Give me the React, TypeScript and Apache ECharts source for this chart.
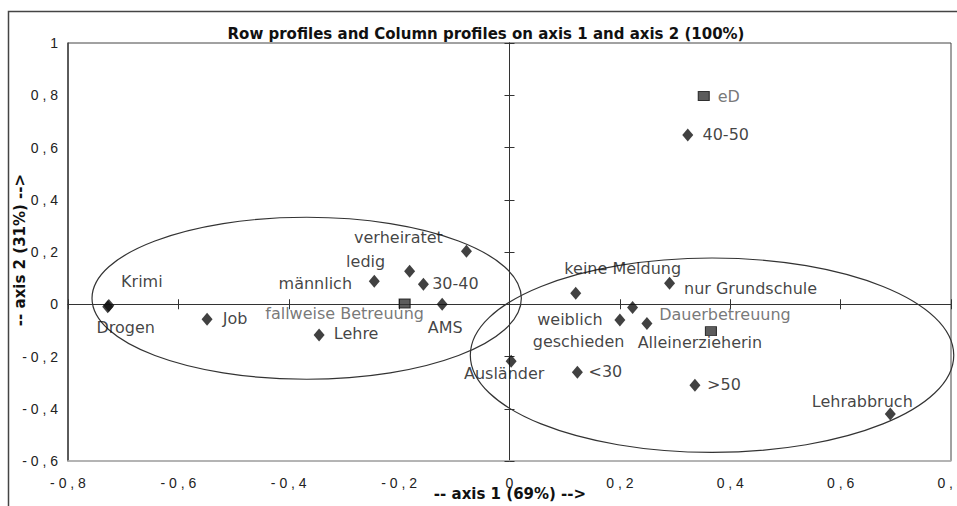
import React, { useEffect, useRef } from "react";
import * as echarts from "echarts";

// Row / column profiles (diamonds)
const DIAMOND_NAMES = [
  "Krimi", "Drogen", "Job", "Lehre", "männlich", "ledig", "30-40", "verheiratet", "AMS",
  "Ausländer", "keine Meldung", "weiblich", "geschieden", "Alleinerzieherin", "nur Grundschule",
  "<30", ">50", "Lehrabbruch", "40-50",
];
const DIAMOND_X = [
  -0.726, -0.728, -0.548, -0.345, -0.245, -0.181, -0.156, -0.078, -0.122,
  0.003, 0.12, 0.2, 0.223, 0.249, 0.29,
  0.123, 0.336, 0.69, 0.323,
];
const DIAMOND_Y = [
  -0.005, -0.01, -0.057, -0.118, 0.088, 0.126, 0.077, 0.203, 0.0,
  -0.218, 0.042, -0.06, -0.012, -0.074, 0.08,
  -0.26, -0.31, -0.42, 0.648,
];

// Squares
const SQUARE_NAMES = ["fallweise Betreuung", "Dauerbetreuung", "eD"];
const SQUARE_X = [-0.19, 0.365, 0.352];
const SQUARE_Y = [0.003, -0.103, 0.797];

// Ellipses: centre x, centre y, radius x, radius y (data units)
const ELLIPSE_CX = [-0.3675, 0.367];
const ELLIPSE_CY = [0.023, -0.195];
const ELLIPSE_RX = [0.389, 0.438];
const ELLIPSE_RY = [0.31, 0.372];

const TITLE = "Row profiles and Column profiles on axis 1 and axis 2 (100%)";
const X_TITLE = "-- axis 1 (69%) -->";
const Y_TITLE = "-- axis 2 (31%) -->";

// label placement (style), pixel offsets from marker centre
const LABEL_OFFSETS: Record<string, number[]> = {
  Krimi: [33, -24], Drogen: [18, 21], Job: [28, -1], Lehre: [37, -2],
  "männlich": [-59, 2], ledig: [-44, -10], "30-40": [32, -1], verheiratet: [-68, -14],
  "fallweise Betreuung": [-60, 10], AMS: [3, 23], "Ausländer": [-7, 12],
  "keine Meldung": [47, -25], weiblich: [-50, 0], geschieden: [-54, 34],
  Alleinerzieherin: [53, 19], "nur Grundschule": [81, 5], Dauerbetreuung: [14, -17],
  "<30": [28, -1], ">50": [29, -1], Lehrabbruch: [-28, -12], eD: [25, 0], "40-50": [38, 0],
};

const fmt = (v: number) => {
  const r = Math.round(v * 10) / 10;
  const s = r === 0 ? "0" : r % 1 === 0 ? String(r) : r.toFixed(1).replace(".", ",");
  return s.split("").join(" ");
};

export default function App() {
  const ref = useRef<HTMLDivElement>(null);
  useEffect(() => {
    if (!ref.current) return;
    const chart = echarts.init(ref.current, null, { renderer: "svg" });
    const LABEL_FONT = "DejaVu Sans";
    const mk = (names: string[], xs: number[], ys: number[], color: string) =>
      names.map((n, i) => ({
        name: n,
        value: [xs[i], ys[i]],
        label: { offset: LABEL_OFFSETS[n] || [0, 0], color },
      }));
    const baseX = { type: "value", min: -0.8, max: 0.8, interval: 0.2, splitLine: { show: false }, gridIndex: 0 };
    const baseY = { type: "value", min: -0.6, max: 1, interval: 0.2, splitLine: { show: false }, gridIndex: 0 };
    const option: any = {
      animation: false,
      backgroundColor: "#fff",
      grid: {
        left: 68, top: 43, width: 883, height: 418, show: true, borderColor: "#444", borderWidth: 1,
        containLabel: false, outerBoundsMode: "none",
      },
      xAxis: [
        {
          ...baseX,
          position: "bottom",
          axisLine: { show: true, onZero: false, lineStyle: { color: "#bbb", width: 1.5 } },
          axisTick: { show: false },
          axisLabel: { formatter: fmt, fontSize: 14, color: "#222", margin: 15, fontFamily: "Liberation Sans" },
        },
        {
          ...baseX,
          axisLine: { show: true, onZero: true, onZeroAxisIndex: 0, lineStyle: { color: "#333" } },
          axisTick: { show: true, inside: false, length: 5, lineStyle: { color: "#333" } },
          axisLabel: { show: false },
        },
        {
          ...baseX,
          axisLine: { show: true, onZero: true, onZeroAxisIndex: 0, lineStyle: { color: "#333" } },
          axisTick: { show: true, inside: true, length: 5, lineStyle: { color: "#333" } },
          axisLabel: { show: false },
        },
      ],
      yAxis: [
        {
          ...baseY,
          position: "left",
          axisLine: { show: true, onZero: false, lineStyle: { color: "#444", width: 1.5 } },
          axisTick: { show: false },
          axisLabel: { formatter: fmt, fontSize: 14, color: "#222", margin: 10, fontFamily: "Liberation Sans" },
        },
        {
          ...baseY,
          position: "left",
          axisLine: { show: true, onZero: true, onZeroAxisIndex: 0, lineStyle: { color: "#333" } },
          axisTick: { show: true, inside: false, length: 5, lineStyle: { color: "#333" } },
          axisLabel: { show: false },
        },
        {
          ...baseY,
          position: "left",
          axisLine: { show: true, onZero: true, onZeroAxisIndex: 0, lineStyle: { color: "#333" } },
          axisTick: { show: true, inside: true, length: 5, lineStyle: { color: "#333" } },
          axisLabel: { show: false },
        },
      ],
      graphic: [
        { type: "rect", z: -10, shape: { x: 8.5, y: 11.5, width: 1000, height: 600 }, style: { fill: "none", stroke: "#444", lineWidth: 1.5 } },
        { type: "text", x: 486, y: 34, style: { text: TITLE, textAlign: "center", textVerticalAlign: "middle", font: "bold 15px 'DejaVu Sans'", fill: "#111" } },
        { type: "text", x: 510, y: 494, style: { text: X_TITLE, textAlign: "center", textVerticalAlign: "middle", font: "bold 15px 'DejaVu Sans'", fill: "#111" } },
        { type: "text", x: 20, y: 250, rotation: Math.PI / 2, style: { text: Y_TITLE, textAlign: "center", textVerticalAlign: "middle", font: "bold 15px 'DejaVu Sans'", fill: "#111" } },
      ],
      series: [
        {
          type: "custom",
          xAxisIndex: 0,
          yAxisIndex: 0,
          silent: true,
          z: 1,
          data: ELLIPSE_CX.map((cx, i) => [cx, ELLIPSE_CY[i], ELLIPSE_RX[i], ELLIPSE_RY[i]]),
          renderItem: (params: any, api: any) => {
            const c = api.coord([api.value(0), api.value(1)]);
            const s = api.size([api.value(2) * 2, api.value(3) * 2]);
            return {
              type: "ellipse",
              shape: { cx: c[0], cy: c[1], rx: s[0] / 2, ry: s[1] / 2 },
              style: { fill: "none", stroke: "#333", lineWidth: 1.2 },
            };
          },
        },
        {
          type: "scatter",
          xAxisIndex: 0,
          yAxisIndex: 0,
          z: 3,
          symbol: "diamond",
          symbolSize: [11, 13],
          itemStyle: { color: "#111" },
          label: { show: true, position: "inside", formatter: "{b}", fontSize: 16, fontFamily: LABEL_FONT, color: "#111" },
          data: mk(DIAMOND_NAMES, DIAMOND_X, DIAMOND_Y, "#111"),
        },
        {
          type: "scatter",
          xAxisIndex: 0,
          yAxisIndex: 0,
          z: 3,
          symbol: "rect",
          symbolSize: [11, 9],
          itemStyle: { color: "#333", borderColor: "#111", borderWidth: 1 },
          label: { show: true, position: "inside", formatter: "{b}", fontSize: 16, fontFamily: LABEL_FONT, color: "#555" },
          data: mk(SQUARE_NAMES, SQUARE_X, SQUARE_Y, "#555"),
        },
      ],
    };
    chart.setOption(option);
    return () => chart.dispose();
  }, []);
  return <div ref={ref} style={{ position: "absolute", left: 0, top: 0, width: 957, height: 506, background: "#fff" }} />;
}
